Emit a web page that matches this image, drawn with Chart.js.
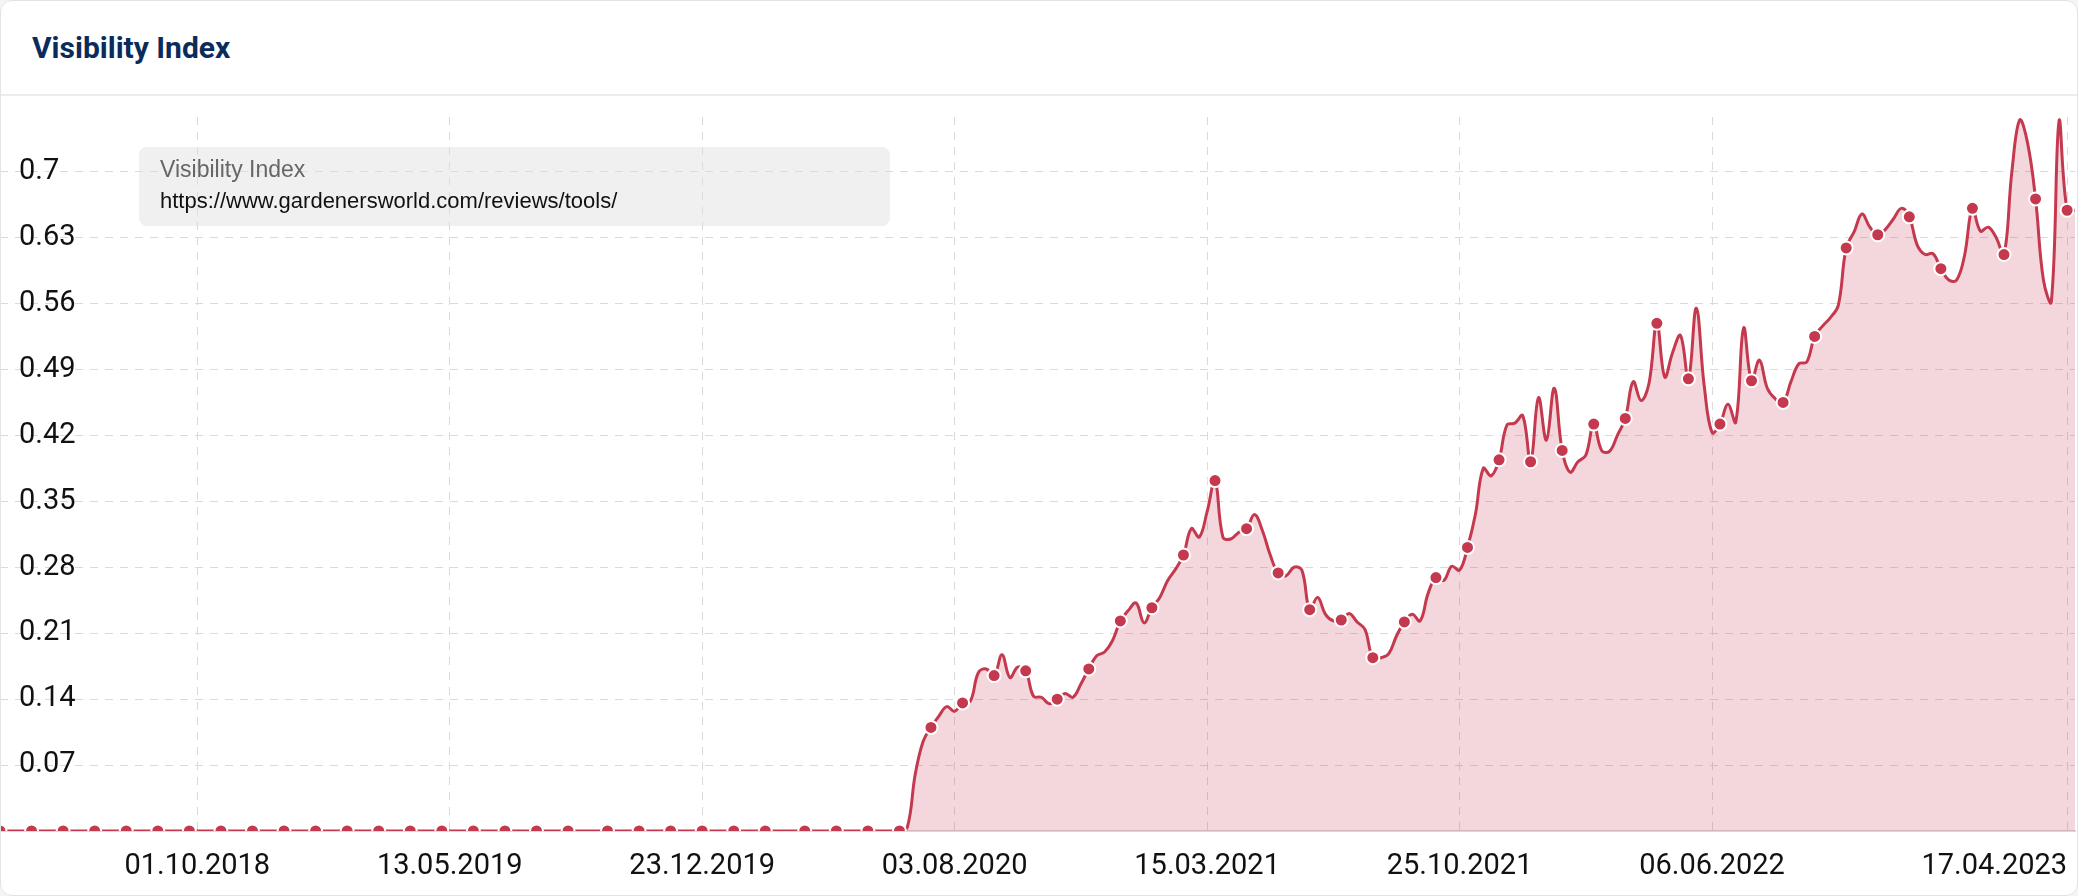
<!DOCTYPE html>
<html>
<head>
<meta charset="utf-8">
<script src="https://cdn.jsdelivr.net/npm/chart.js@4.4.0/dist/chart.umd.min.js"></script>
<style>
    html, body { margin: 0; padding: 0; background: #f5f5f5; width: 2078px; height: 896px; overflow: hidden; }
    .card {
        position: absolute; left: 0; top: 0; width: 2076px; height: 894px;
        background: #fff; border: 1px solid #e3e3e3; border-radius: 12px; overflow: hidden;
    }
    .card-head { position: absolute; left: 0; top: 0; width: 100%; height: 95px; border-bottom: 2px solid #ececec; box-sizing: border-box; }
    .card-head h2 {
        position: absolute; left: 31px; top: 32px; margin: 0;
        font: 700 30px/30px Roboto, sans-serif; color: #0b2b5c;
    }
    .chart-wrap { position: absolute; left: -1px; top: 95px; width: 2078px; height: 800px; }
    .vi-legend {
        position: absolute; left: 139px; top: 147px; width: 751px; height: 79px;
        box-sizing: border-box; padding: 7px 0 0 21px;
        background: rgba(222, 222, 222, 0.45); border-radius: 8px;
        font: 23px/31px "Liberation Sans", Arial, sans-serif;
    }
    .vi-legend .k { color: #666; }
    .vi-legend .u { color: #111; font-size: 22px; }
</style>
</head>
<body>
<div class="card">
    <div class="card-head"><h2>Visibility Index</h2></div>
    <div class="chart-wrap"><canvas id="viChart"></canvas></div>
</div>
<div class="vi-legend">
    <div class="k">Visibility Index</div>
    <div class="u">https://www.gardenersworld.com/reviews/tools/</div>
</div>

<script>
/* weekly visibility values, Monday 09.04.2018 -> 24.04.2023 */
const startWeek = [2018, 3, 9];
const weekCount = 264;

const tickLabels = ['01.10.2018', '13.05.2019', '23.12.2019', '03.08.2020',
                    '15.03.2021', '25.10.2021', '06.06.2022', '17.04.2023'];

const visibility = [
    0, 0, 0, 0, 0, 0, 0, 0, 0, 0, 0, 0, 0, 0, 0, 0, 0, 0, 0, 0,
    0, 0, 0, 0, 0, 0, 0, 0, 0, 0, 0, 0, 0, 0, 0, 0, 0, 0, 0, 0,
    0, 0, 0, 0, 0, 0, 0, 0, 0, 0, 0, 0, 0, 0, 0, 0, 0, 0, 0, 0,
    0, 0, 0, 0, 0, 0, 0, 0, 0, 0, 0, 0, 0, 0, 0, 0, 0, 0, 0, 0,
    0, 0, 0, 0, 0, 0, 0, 0, 0, 0, 0, 0, 0, 0, 0, 0, 0, 0, 0, 0,
    0, 0, 0, 0, 0, 0, 0, 0, 0, 0, 0, 0, 0, 0, 0,
    0.004, 0.06, 0.095, 0.110, 0.122, 0.132, 0.127, 0.136, 0.138, 0.168,
    0.172, 0.165, 0.187, 0.163, 0.174, 0.170, 0.143, 0.142, 0.135, 0.140,
    0.146, 0.142, 0.156, 0.172, 0.186, 0.190, 0.202, 0.223, 0.234, 0.242,
    0.221, 0.237, 0.248, 0.266, 0.278, 0.293, 0.321, 0.312, 0.339, 0.372,
    0.312, 0.310, 0.317, 0.321, 0.336, 0.319, 0.293, 0.274, 0.271, 0.280,
    0.277, 0.235, 0.248, 0.230, 0.223, 0.224, 0.231, 0.222, 0.214, 0.184,
    0.184, 0.188, 0.207, 0.222, 0.230, 0.223, 0.252, 0.269, 0.266, 0.281,
    0.277, 0.301, 0.336, 0.385, 0.377, 0.394, 0.431, 0.433, 0.441, 0.392,
    0.460, 0.415, 0.470, 0.404, 0.381, 0.392, 0.399, 0.432, 0.404, 0.403,
    0.420, 0.438, 0.477, 0.457, 0.475, 0.539, 0.482, 0.508, 0.526, 0.480,
    0.555, 0.473, 0.423, 0.432, 0.453, 0.434, 0.534, 0.478, 0.500, 0.470,
    0.459, 0.455, 0.477, 0.496, 0.498, 0.525, 0.536, 0.545, 0.558, 0.619,
    0.636, 0.655, 0.641, 0.633, 0.639, 0.650, 0.661, 0.652, 0.622, 0.612,
    0.613, 0.597, 0.585, 0.585, 0.611, 0.661, 0.637, 0.641, 0.630, 0.612,
    0.700, 0.755, 0.730, 0.671, 0.585, 0.562, 0.755, 0.659, 0.659
];

// weeks that carry a visible marker
const markerWeeks = [0, 4, 8, 12, 16, 20, 24, 28, 32, 36, 40, 44, 48, 52, 56, 60, 64, 68, 72,
    77, 81, 85, 89, 93, 97, 102, 106, 110, 114, 118, 122, 126, 130, 134, 138, 142, 146,
    150, 154, 158, 162, 166, 170, 174, 178, 182, 186, 190, 194, 198, 202, 206, 210, 214,
    218, 222, 226, 230, 234, 238, 242, 246, 250, 254, 258, 262];

const yTicks = { min: 0, max: 0.758, step: 0.07 };

/* ========================================================================== */

const pad = n => String(n).padStart(2, '0');
const weeks = [];
for (let i = 0; i < weekCount; i++) {
    const d = new Date(Date.UTC(startWeek[0], startWeek[1], startWeek[2] + i * 7));
    weeks.push(`${pad(d.getUTCDate())}.${pad(d.getUTCMonth() + 1)}.${d.getUTCFullYear()}`);
}
const tickIdx = tickLabels.map(l => weeks.indexOf(l));
const markers = new Set(markerWeeks);

const RED = '#c5394f';
const GRID = '#dadada';
const axisFont = { family: 'Roboto', size: 29 };

// keep the plot flush with the card edges (labels sit inside the plot)
const noScalePadding = s => { s.paddingLeft = s.paddingRight = s.paddingTop = s.paddingBottom = 0; };

new Chart(document.getElementById('viChart').getContext('2d'), {
    type: 'line',
    data: {
        labels: weeks,
        datasets: [{
            data: visibility,
            borderColor: RED,
            borderWidth: 3,
            backgroundColor: 'rgba(197, 57, 79, 0.2)',
            fill: 'origin',
            tension: 0.4,
            pointRadius: ctx => markers.has(ctx.dataIndex) ? 6.5 : 0,
            pointBorderWidth: 2,
            pointBorderColor: '#fff',
            pointBackgroundColor: RED
        }]
    },
    options: {
        responsive: true,
        maintainAspectRatio: false,
        animation: false,
        layout: { autoPadding: false, padding: { top: 21, right: 3, left: 0, bottom: 0 } },
        plugins: { legend: { display: false }, tooltip: { enabled: false } },
        scales: {
            x: {
                afterBuildTicks: s => { s.ticks = s.ticks.filter(t => t.value === 0 || tickIdx.includes(t.value)); },
                afterFit: s => { s.height = 65; noScalePadding(s); },
                ticks: {
                    autoSkip: false, maxRotation: 0, align: 'inner', padding: 18,
                    color: '#111', font: axisFont,
                    callback: v => v === 0 ? '' : weeks[v]
                },
                grid: { drawTicks: false, color: ctx => ctx.index === 0 ? 'transparent' : GRID },
                border: { display: true, color: '#d9d9d9', width: 2, dash: [8, 7] }
            },
            y: {
                min: yTicks.min,
                max: yTicks.max,
                afterFit: s => { s.width = 0; noScalePadding(s); },
                ticks: {
                    stepSize: yTicks.step, includeBounds: false, mirror: true, padding: 19,
                    color: '#111', font: axisFont,
                    callback: v => v === 0 ? '' : String(+v.toFixed(2))
                },
                grid: { drawTicks: false, color: ctx => (ctx.tick && ctx.tick.value === 0) ? 'transparent' : GRID },
                border: { display: false, dash: [8, 7] }
            }
        }
    }
});
</script>
</body>
</html>
